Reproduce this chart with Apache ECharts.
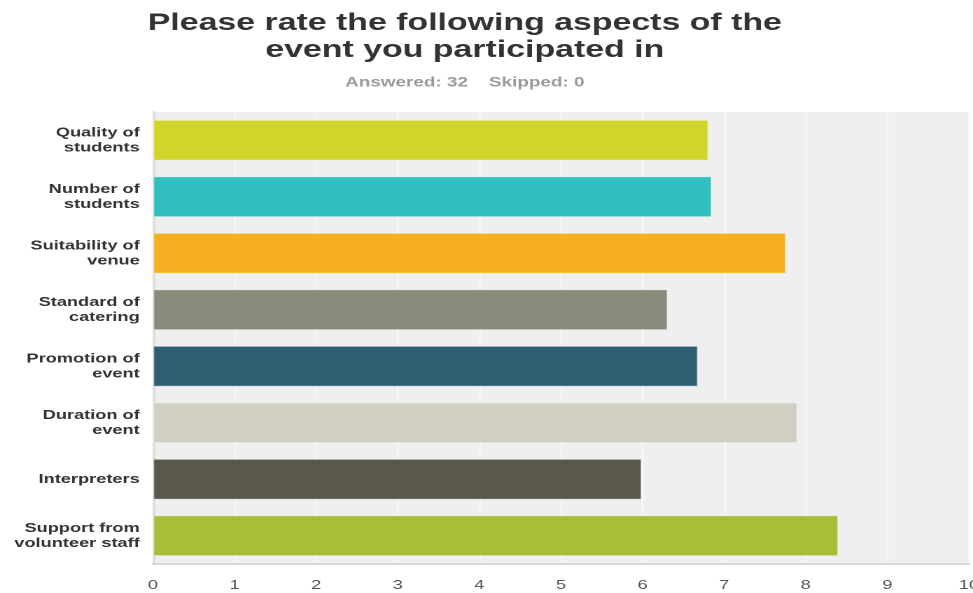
<!DOCTYPE html>
<html>
<head>
<meta charset="utf-8">
<script src="https://cdn.jsdelivr.net/npm/echarts@6/dist/echarts.min.js"></script>
<style>
html,body{margin:0;padding:0;background:#fff;overflow:hidden;}
#wrap{width:973px;height:593px;overflow:hidden;}
#c{width:695px;height:593px;transform:scaleX(1.4);transform-origin:0 0;}
</style>
</head>
<body>
<div id="wrap"><div id="c"></div></div>
<script>
var categories = [
  "Quality of\nstudents",
  "Number of\nstudents",
  "Suitability of\nvenue",
  "Standard of\ncatering",
  "Promotion of\nevent",
  "Duration of\nevent",
  "Interpreters",
  "Support from\nvolunteer staff"
];
var values = [6.81, 6.85, 7.76, 6.31, 6.68, 7.90, 5.99, 8.40];
var barColors = ["#D0D52A", "#33BEC0", "#F7AE1F", "#8A8B7A", "#2D5F6E", "#D0CFC1", "#5A584A", "#A9BD38"];
var xTicks = [0, 1, 2, 3, 4, 5, 6, 7, 8, 9, 10];
var titleText = "Please rate the following aspects of the\nevent you participated in";
var subText = "Answered: 32    Skipped: 0";

var FONT = 'Liberation Sans, Arial, sans-serif';
var chart = echarts.init(document.getElementById('c'), null, {renderer: 'canvas', devicePixelRatio: 2});
chart.setOption({
  animation: false,
  title: {
    text: titleText,
    subtext: subText,
    left: 327,
    textAlign: 'center',
    top: 5,
    itemGap: 11,
    textStyle: {fontFamily: FONT, fontSize: 24.2, fontWeight: 'bold', color: '#333', lineHeight: 27},
    subtextStyle: {fontFamily: FONT, fontSize: 13.5, fontWeight: 'bold', color: '#9a9a9a', lineHeight: 16}
  },
  grid: {
    left: 109.3, right: 2.9, top: 112, bottom: 29,
    outerBoundsMode: 'none',
    containLabel: false,
    show: true, backgroundColor: '#EFEFEF', borderWidth: 0
  },
  xAxis: {
    type: 'value', min: xTicks[0], max: xTicks[xTicks.length - 1], interval: 1,
    axisLine: {show: true, lineStyle: {color: '#D6D6D6', width: 2}},
    axisTick: {show: false},
    splitLine: {show: true, lineStyle: {color: '#F6F6F6', width: 1.5}},
    axisLabel: {fontFamily: FONT, fontSize: 13, color: '#555', margin: 15}
  },
  yAxis: {
    type: 'category', data: categories, inverse: true,
    axisLine: {show: true, lineStyle: {color: '#DDDDDD', width: 2}},
    axisTick: {show: false},
    axisLabel: {fontFamily: FONT, fontSize: 13, fontWeight: 'bold', color: '#333', lineHeight: 15, margin: 9.5, align: 'right'}
  },
  series: [{
    type: 'bar',
    data: values.map(function (v, i) { return {value: v, itemStyle: {color: barColors[i]}}; }),
    barCategoryGap: '28%',
    itemStyle: {borderColor: 'rgba(255,255,255,0.35)', borderWidth: 1}
  }]
});
</script>
</body>
</html>
